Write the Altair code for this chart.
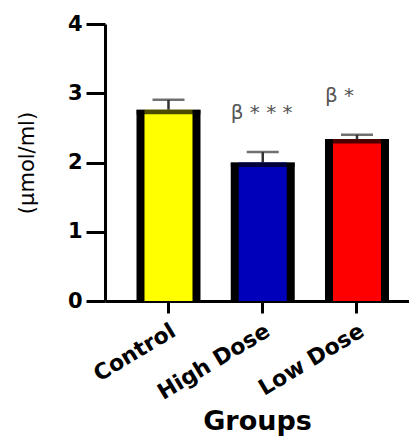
import altair as alt
import pandas as pd

groups = ["Control", "High Dose", "Low Dose"]
means = [2.76, 2.0, 2.34]
errors = [0.145, 0.15, 0.06]
fills = ["#FFFF00", "#0000BB", "#FF0000"]
annotations = ["", "β * * *", "β *"]
y_ticks = [0, 1, 2, 3, 4]

df = pd.DataFrame({"group": groups, "mean": means, "err": errors,
                   "fill": fills, "label": annotations})
df["upper"] = df["mean"] + df["err"]

x_enc = alt.X(
    "group:N", sort=groups,
    scale=alt.Scale(paddingInner=0.3, paddingOuter=0.2627, align=0.616),
    axis=alt.Axis(title="Groups", labelAngle=-31, labelAlign="right",
                  labelBaseline="top", tickSize=12, labelPadding=7,
                  labelFontSize=22,
                  titleFontSize=27, titleFontWeight="bold",
                  titleY=128, titleBaseline="alphabetic"),
)
y_axis = alt.Axis(title="(µmol/ml)", values=y_ticks, format="d", tickSize=19,
                  labelPadding=4, labelFontSize=21,
                  titleFontWeight="normal", titleFontSize=21,
                  titleX=-78, titleY=138.5, titleBaseline="middle", titleAngle=270)
y_scale = alt.Scale(domain=[0, 4], nice=False)

base = alt.Chart(df)

err_rule = base.mark_rule(color="#333333", strokeWidth=2.5).encode(
    x=x_enc,
    y=alt.Y("mean:Q", scale=y_scale, axis=y_axis),
    y2="upper:Q",
)
err_cap = base.mark_tick(color="#333333", thickness=2.5, size=32, orient="horizontal").encode(
    x=x_enc,
    y=alt.Y("upper:Q", scale=y_scale, axis=y_axis),
)
outer = base.mark_bar(color="black", size=64).encode(
    x=x_enc,
    y=alt.Y("mean:Q", scale=y_scale, axis=y_axis),
)
inner = base.mark_bar(size=48).encode(
    x=x_enc,
    y=alt.Y("mean:Q", scale=y_scale, axis=y_axis),
    color=alt.Color("fill:N", scale=None),
)
top_edge = base.mark_tick(color="black", thickness=4.5, size=64, orient="horizontal",
                          yOffset=2.25).encode(
    x=x_enc,
    y=alt.Y("mean:Q", scale=y_scale, axis=y_axis),
)
text = base.mark_text(align="left", baseline="alphabetic", dx=-32, dy=-33,
                      font="DejaVu Sans", fontSize=20, color="#555555").encode(
    x=x_enc,
    y=alt.Y("upper:Q", scale=y_scale, axis=y_axis),
    text="label:N",
)

chart = alt.layer(err_rule, err_cap, outer, inner, top_edge, text).properties(
    width=304, height=277,
    autosize=alt.AutoSizeParams(type="none"),
    padding={"left": 97, "top": 16, "right": 0, "bottom": 137},
    background="white",
).configure_view(stroke=None).configure_axis(
    domainColor="black", domainWidth=3, tickColor="black", tickWidth=3,
    labelColor="black", titleColor="black",
    labelFont="DejaVu Sans", titleFont="DejaVu Sans",
    labelFontWeight="bold", grid=False, zindex=1,
)

chart.save("out.html", embed_options={"renderer": "svg", "actions": False})
